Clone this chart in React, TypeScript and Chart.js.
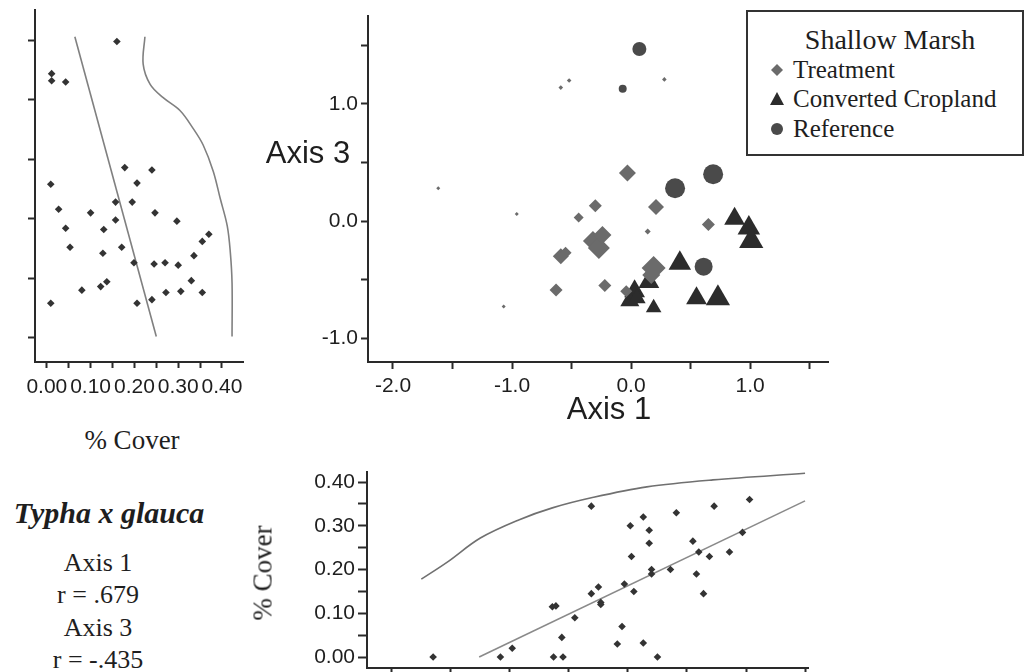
import React, { useEffect, useRef } from "react";
import { Chart, registerables } from "chart.js";

Chart.register(...registerables);

// ---------- Main ordination (Axis 1 vs Axis 3), marker size = Typha cover ----------
const treatmentX = [-1.62, -0.96, -1.07, -0.59, -0.52, 0.28, 0.14, -0.03, -0.30, -0.44, 0.21, 0.65, -0.32, -0.27, -0.24, -0.59, -0.55, -0.63, -0.22, 0.19, 0.17, -0.04];
const treatmentY = [0.28, 0.06, -0.73, 1.14, 1.20, 1.21, -0.09, 0.41, 0.13, 0.03, 0.12, -0.03, -0.17, -0.23, -0.12, -0.30, -0.27, -0.59, -0.55, -0.40, -0.46, -0.60];
const treatmentSize = [2, 2, 2, 2.3, 2.3, 2.3, 3, 8.5, 6.5, 5, 8, 6.5, 10, 11, 9, 8, 6, 6.5, 6.5, 12, 9, 6];

const croplandX = [0.87, 0.99, 1.01, 0.41, 0.03, 0.15, 0.19, -0.01, 0.05, 0.55, 0.73];
const croplandY = [0.02, -0.06, -0.17, -0.36, -0.60, -0.52, -0.74, -0.68, -0.66, -0.66, -0.66];
const croplandSize = [12, 13, 14, 13, 12, 12, 9, 11, 10, 12, 14];

const referenceX = [0.07, -0.07, 0.37, 0.69, 0.61];
const referenceY = [1.47, 1.13, 0.28, 0.40, -0.39];
const referenceSize = [7, 4, 10, 10, 9];

const axis1Ticks = [-2, -1.5, -1, -0.5, 0, 0.5, 1, 1.5];
const axis1Labels = ["-2.0", "", "-1.0", "", "0.0", "", "1.0", ""];
const axis3Ticks = [-1, -0.5, 0, 0.5, 1, 1.5];
const axis3Labels = ["-1.0", "", "0.0", "", "1.0", ""];

// ---------- Left panel: % cover vs Axis 3 ----------
const leftCover = [0.16, 0.011, 0.011, 0.043, 0.178, 0.24, 0.009, 0.206, 0.157, 0.195, 0.027, 0.10, 0.247, 0.157, 0.297, 0.043, 0.13, 0.37, 0.355, 0.053, 0.128, 0.171, 0.336, 0.199, 0.245, 0.27, 0.30, 0.33, 0.137, 0.123, 0.08, 0.272, 0.306, 0.355, 0.009, 0.206, 0.24];
const leftAxis3 = [1.49, 1.22, 1.16, 1.15, 0.43, 0.41, 0.29, 0.30, 0.14, 0.14, 0.08, 0.05, 0.05, -0.01, -0.02, -0.08, -0.09, -0.13, -0.19, -0.24, -0.29, -0.24, -0.31, -0.37, -0.38, -0.37, -0.39, -0.52, -0.53, -0.57, -0.60, -0.62, -0.61, -0.62, -0.71, -0.71, -0.68];
const leftFitCover = [0.064, 0.25];
const leftFitAxis3 = [1.53, -0.99];
const leftCurveCover = [0.224, 0.220, 0.236, 0.265, 0.304, 0.334, 0.357, 0.380, 0.396, 0.412, 0.419, 0.423, 0.423];
const leftCurveAxis3 = [1.53, 1.30, 1.13, 1.02, 0.91, 0.76, 0.62, 0.40, 0.17, -0.06, -0.28, -0.54, -0.99];
const coverTicks = [0, 0.05, 0.1, 0.15, 0.2, 0.25, 0.3, 0.35, 0.4];
const coverLabels = ["0.00", "", "0.10", "", "0.20", "", "0.30", "", "0.40"];

// ---------- Bottom panel: Axis 1 vs % cover ----------
const bottomAxis1 = [-1.65, -1.08, -0.98, -0.63, -0.55, -0.56, -0.64, -0.61, -0.45, -0.31, -0.25, -0.23, -0.23, -0.31, -0.09, -0.05, -0.03, 0.02, 0.03, 0.05, 0.13, 0.13, 0.18, 0.18, 0.20, 0.20, 0.25, 0.36, 0.41, 0.55, 0.58, 0.60, 0.64, 0.69, 0.73, 0.86, 0.97, 1.03];
const bottomCover = [0.00, 0.00, 0.02, 0.00, 0.00, 0.045, 0.115, 0.117, 0.09, 0.145, 0.16, 0.125, 0.12, 0.345, 0.03, 0.07, 0.167, 0.30, 0.23, 0.15, 0.32, 0.032, 0.29, 0.26, 0.20, 0.19, 0.00, 0.20, 0.33, 0.265, 0.19, 0.24, 0.145, 0.23, 0.345, 0.24, 0.285, 0.36];
const bottomFitAxis1 = [-1.26, 1.50];
const bottomFitCover = [0.0, 0.357];
const bottomCurveAxis1 = [-1.75, -1.53, -1.25, -0.92, -0.64, -0.31, 0.16, 0.72, 1.50];
const bottomCurveCover = [0.178, 0.217, 0.272, 0.314, 0.341, 0.364, 0.389, 0.405, 0.420];

// ---------- styling ----------
const SANS = "'Liberation Sans', Arial, sans-serif";
const SERIF = "'Liberation Serif', 'Times New Roman', serif";
const AXIS = "#2a2a2a";
const TEXT = "#1e1e1e";

const pts = (xs: number[], ys: number[]) => xs.map((x, i) => ({ x, y: ys[i] }));

function scale(opts: {
  position: "left" | "bottom";
  min: number;
  max: number;
  ticks: number[];
  labels: string[];
  size: number;
  tickLength: number;
  padding: number;
  showLabels: boolean;
}) {
  return {
    type: "linear",
    position: opts.position,
    min: opts.min,
    max: opts.max,
    afterBuildTicks: (s: any) => {
      s.ticks = opts.ticks.map((v) => ({ value: v }));
    },
    afterFit: (s: any) => {
      if (opts.position === "left") s.width = opts.size;
      else s.height = opts.size;
    },
    grid: {
      drawOnChartArea: false,
      drawTicks: true,
      tickLength: opts.tickLength,
      tickColor: AXIS,
      tickWidth: 2,
    },
    border: { display: true, color: AXIS, width: 2 },
    ticks: {
      display: opts.showLabels,
      autoSkip: false,
      maxRotation: 0,
      minRotation: 0,
      padding: opts.padding,
      color: TEXT,
      font: { family: SANS, size: 21 },
      callback: (_v: any, i: number) => opts.labels[i] ?? "",
    },
  };
}

const baseOptions = (padding: any) => ({
  responsive: false,
  animation: false,
  events: [],
  layout: { padding, autoPadding: false },
  plugins: { legend: { display: false }, tooltip: { enabled: false } },
});

function ChartBox({ left, top, width, height, build }: any) {
  const ref = useRef<HTMLCanvasElement>(null);
  useEffect(() => {
    const chart = new Chart(ref.current as HTMLCanvasElement, build());
    return () => chart.destroy();
  }, []);
  return (
    <div style={{ position: "absolute", left, top, width, height }}>
      <canvas ref={ref} width={width} height={height} style={{ width, height, display: "block" }} />
    </div>
  );
}

const buildMain = () => ({
  type: "scatter",
  data: {
    datasets: [
      {
        label: "Treatment",
        data: pts(treatmentX, treatmentY),
        pointStyle: "rectRot",
        pointRadius: treatmentSize,
        backgroundColor: "#6b6b6b",
        borderWidth: 0,
        clip: false,
      },
      {
        label: "Converted Cropland",
        data: pts(croplandX, croplandY),
        pointStyle: "triangle",
        pointRadius: croplandSize,
        backgroundColor: "#2c2c2c",
        borderWidth: 0,
        clip: false,
      },
      {
        label: "Reference",
        data: pts(referenceX, referenceY),
        pointStyle: "circle",
        pointRadius: referenceSize,
        backgroundColor: "#4a4a4a",
        borderWidth: 0,
        clip: false,
      },
    ],
  },
  options: {
    ...baseOptions({ top: 12, right: 12, left: 0, bottom: 0 }),
    scales: {
      x: scale({ position: "bottom", min: -2.21, max: 1.655, ticks: axis1Ticks, labels: axis1Labels, size: 58, tickLength: 7, padding: 5, showLabels: true }),
      y: scale({ position: "left", min: -1.204, max: 1.755, ticks: axis3Ticks, labels: axis3Labels, size: 78, tickLength: 7, padding: 3, showLabels: true }),
    },
  },
});

const buildLeft = () => ({
  type: "scatter",
  data: {
    datasets: [
      {
        label: "Typha cover",
        data: pts(leftCover, leftAxis3),
        pointStyle: "rectRot",
        pointRadius: 3.8,
        backgroundColor: "#333333",
        borderWidth: 0,
        clip: false,
      },
      {
        label: "fit",
        data: pts(leftFitCover, leftFitAxis3),
        showLine: true,
        pointRadius: 0,
        borderColor: "#808080",
        borderWidth: 1.6,
      },
      {
        label: "envelope",
        data: pts(leftCurveCover, leftCurveAxis3),
        showLine: true,
        tension: 0.35,
        pointRadius: 0,
        borderColor: "#808080",
        borderWidth: 1.6,
      },
    ],
  },
  options: {
    ...baseOptions({ top: 10, right: 17, left: 0, bottom: 0 }),
    scales: {
      x: scale({ position: "bottom", min: -0.027, max: 0.448, ticks: coverTicks, labels: coverLabels, size: 58, tickLength: 6, padding: 7, showLabels: true }),
      y: scale({ position: "left", min: -1.204, max: 1.755, ticks: axis3Ticks, labels: axis3Labels, size: 35, tickLength: 7, padding: 0, showLabels: false }),
    },
  },
});

const buildBottom = () => ({
  type: "scatter",
  data: {
    datasets: [
      {
        label: "Typha cover",
        data: pts(bottomAxis1, bottomCover),
        pointStyle: "rectRot",
        pointRadius: 3.8,
        backgroundColor: "#333333",
        borderWidth: 0,
        clip: false,
      },
      {
        label: "fit",
        data: pts(bottomFitAxis1, bottomFitCover),
        showLine: true,
        pointRadius: 0,
        borderColor: "#8a8a8a",
        borderWidth: 1.6,
      },
      {
        label: "envelope",
        data: pts(bottomCurveAxis1, bottomCurveCover),
        showLine: true,
        tension: 0.35,
        pointRadius: 0,
        borderColor: "#707070",
        borderWidth: 1.6,
      },
    ],
  },
  options: {
    ...baseOptions({ top: 42, right: 22, left: 0, bottom: 0 }),
    scales: {
      x: scale({ position: "bottom", min: -2.21, max: 1.525, ticks: axis1Ticks, labels: axis1Labels, size: 22, tickLength: 7, padding: 2, showLabels: false }),
      y: scale({ position: "left", min: -0.025, max: 0.423, ticks: coverTicks, labels: coverLabels, size: 127, tickLength: 9, padding: 3, showLabels: true }),
    },
  },
});

function Text({ x, y, size, family, children, weight, italic, rotate }: any) {
  return (
    <div
      style={{
        position: "absolute",
        left: x,
        top: y,
        transform: `translate(-50%, -50%)${rotate ? ` rotate(${rotate}deg)` : ""}`,
        fontFamily: family,
        fontSize: size,
        fontWeight: weight || "normal",
        fontStyle: italic ? "italic" : "normal",
        lineHeight: 1,
        whiteSpace: "nowrap",
        color: TEXT,
      }}
    >
      {children}
    </div>
  );
}

export default function App() {
  return (
    <div
      style={{
        position: "fixed",
        left: 0,
        top: 0,
        width: 1026,
        height: 672,
        overflow: "hidden",
        background: "#ffffff",
      }}
    >
      <ChartBox left={0} top={0} width={260} height={420} build={buildLeft} />
      <ChartBox left={290} top={0} width={550} height={420} build={buildMain} />
      <ChartBox left={240} top={430} width={590} height={260} build={buildBottom} />

      <Text x={308} y={152} size={31} family={SANS}>Axis 3</Text>
      <Text x={609} y={408} size={31} family={SANS}>Axis 1</Text>
      <Text x={132} y={440} size={27} family={SERIF}>% Cover</Text>
      <Text x={263} y={573} size={27} family={SERIF} rotate={-90}>% Cover</Text>

      <Text x={109} y={513} size={30} family={SERIF} weight="bold" italic>Typha x glauca</Text>
      <Text x={98} y={563} size={26} family={SERIF}>Axis 1</Text>
      <Text x={98} y={595} size={26} family={SERIF}>r = .679</Text>
      <Text x={98} y={628} size={26} family={SERIF}>Axis 3</Text>
      <Text x={98} y={660} size={26} family={SERIF}>r = -.435</Text>

      <div
        style={{
          position: "absolute",
          left: 746,
          top: 10,
          width: 278,
          height: 146,
          border: "2px solid #333",
          boxSizing: "border-box",
          background: "#fff",
        }}
      />
      <svg style={{ position: "absolute", left: 746, top: 10 }} width={278} height={146}>
        <polygon points="31,54 37,60 31,66 25,60" fill="#6b6b6b" />
        <polygon points="31,82 38,95 24,95" fill="#2c2c2c" />
        <circle cx={31} cy={119} r={6} fill="#4a4a4a" />
      </svg>
      <Text x={890} y={40} size={28} family={SERIF}>Shallow Marsh</Text>
      <div style={{ position: "absolute", left: 793, top: 57, fontFamily: SERIF, fontSize: 25, lineHeight: "26px", color: TEXT, whiteSpace: "nowrap" }}>Treatment</div>
      <div style={{ position: "absolute", left: 793, top: 86, fontFamily: SERIF, fontSize: 25, lineHeight: "26px", color: TEXT, whiteSpace: "nowrap" }}>Converted Cropland</div>
      <div style={{ position: "absolute", left: 793, top: 116, fontFamily: SERIF, fontSize: 25, lineHeight: "26px", color: TEXT, whiteSpace: "nowrap" }}>Reference</div>
    </div>
  );
}
